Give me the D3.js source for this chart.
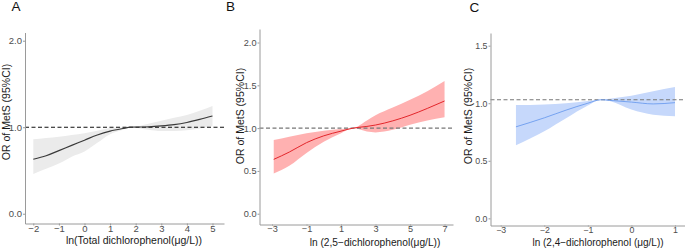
<!DOCTYPE html>
<html>
<head>
<meta charset="utf-8">
<script src="https://cdn.jsdelivr.net/npm/d3@7"></script>
<style>
  body { margin: 0; background: #fff; }
  svg { display: block; font-family: "Liberation Sans", Arial, sans-serif; }
</style>
</head>
<body>
<svg id="chart"></svg>
<script>
// panel A - total dichlorophenol
var xA = [-2, -1.5, -1, -0.5, 0, 0.5, 1, 1.5, 1.8, 2.5, 3, 3.5, 4, 4.5, 5];
var orA = [0.63, 0.67, 0.73, 0.79, 0.85, 0.91, 0.955, 0.985, 1.0, 1.005, 1.015, 1.03, 1.055, 1.09, 1.13];
var loA = [0.46, 0.52, 0.58, 0.66, 0.72, 0.82, 0.92, 0.97, 1.0, 0.97, 0.955, 0.955, 0.965, 0.985, 1.01];
var hiA = [0.86, 0.875, 0.89, 0.91, 0.93, 0.96, 0.99, 1.0, 1.0, 1.04, 1.075, 1.11, 1.14, 1.19, 1.245];

// panel B - 2,5-dichlorophenol
var xB = [-2.9, -2, -1, 0, 1, 1.7, 2.5, 3, 4, 5, 6, 7];
var orB = [0.635, 0.72, 0.83, 0.91, 0.965, 1.0, 1.02, 1.036, 1.085, 1.15, 1.23, 1.317];
var loB = [0.47, 0.56, 0.71, 0.84, 0.94, 1.0, 0.96, 0.95, 0.98, 1.04, 1.09, 1.126];
var hiB = [0.86, 0.90, 0.94, 0.97, 0.99, 1.0, 1.09, 1.15, 1.24, 1.33, 1.43, 1.55];

// panel C - 2,4-dichlorophenol
var xC = [-2.65, -2, -1.5, -1, -0.7, -0.5, 0, 0.5, 1];
var orC = [0.795, 0.873, 0.94, 1.0, 1.03, 1.025, 1.01, 0.994, 1.005];
var loC = [0.636, 0.757, 0.87, 0.98, 1.03, 1.02, 0.945, 0.90, 0.887];
var hiC = [0.985, 0.99, 1.0, 1.02, 1.03, 1.04, 1.066, 1.105, 1.14];

var yTicksA = [0, 1, 2], xTicksA = [-2, -1, 0, 1, 2, 3, 4, 5];
var yTicksB = [0, 0.5, 1, 1.5, 2], xTicksB = [-3, -1, 1, 3, 5, 7];
var yTicksC = [0, 0.5, 1, 1.5], xTicksC = [-3, -2, -1, 0, 1];

var yTitle = "OR of MetS (95%CI)";

var panels = [
  { tag: "A", x: xA, or: orA, lo: loA, hi: hiA, xt: xTicksA, yt: yTicksA, ref: 1,
    xlab: "ln(Total dichlorophenol(μg/L))",
    xlim: [-2.324, 5.45], ylim: [-0.113, 2.095], box: [25, 32.5, 224, 223.5],
    fill: "#ebebeb", line: "#3a3a3a", lw: 1.2, dash: "#111", tickFont: 9.5, tick: 2,
    titleFont: 10.5, tagPos: [11.5, 11], yTitlePos: [10, 112], xTitlePos: [134, 244] },
  { tag: "B", x: xB, or: orB, lo: loB, hi: hiB, xt: xTicksB, yt: yTicksB, ref: 1,
    xlab: "ln (2,5−dichlorophenol(μg/L))",
    xlim: [-3.725, 7.49], ylim: [-0.126, 2.158], box: [259.5, 29, 453, 224.5],
    fill: "#ffb1b1", line: "#e3262b", lw: 1, dash: "#777", tickFont: 9.2, tick: 1,
    titleFont: 10.2, tagPos: [226, 11], yTitlePos: [244, 116], xTitlePos: [375, 245.5] },
  { tag: "C", x: xC, or: orC, lo: loC, hi: hiC, xt: xTicksC, yt: yTicksC, ref: 1.03,
    xlab: "ln (2,4−dichlorophenol (μg/L))",
    xlim: [-3.234, 1.23], ylim: [-0.062, 1.61], box: [490.5, 33, 685, 225.5],
    fill: "#c6d8fb", line: "#6c9cee", lw: 0.9, dash: "#777", tickFont: 8.8, tick: 1,
    titleFont: 10, tagPos: [469.5, 12], yTitlePos: [472, 116], xTitlePos: [598, 245.5] }
];

var svg = d3.select("#chart").attr("width", 685).attr("height", 249);

var fmtY = d => d.toFixed(1);
var fmtX = d => (d < 0 ? "−" + Math.abs(d) : String(d));

panels.forEach(function(p) {
  var b = p.box;
  var x = d3.scaleLinear().domain(p.xlim).range([b[0], b[2]]);
  var y = d3.scaleLinear().domain(p.ylim).range([b[3], b[1]]);
  var pts = p.x.map((v, i) => ({ x: v, or: p.or[i], lo: p.lo[i], hi: p.hi[i] }));
  var g = svg.append("g");

  // confidence band
  g.append("path")
    .datum(pts)
    .attr("fill", p.fill)
    .attr("d", d3.area().curve(d3.curveMonotoneX)
      .x(d => x(d.x)).y0(d => y(d.lo)).y1(d => y(d.hi)));

  // reference line
  g.append("line")
    .attr("x1", x(p.xlim[0])).attr("x2", x(p.xlim[1]))
    .attr("y1", y(p.ref)).attr("y2", y(p.ref))
    .attr("stroke", p.dash).attr("stroke-width", 1.1)
    .attr("stroke-dasharray", "4,2.5");

  // fitted curve
  g.append("path")
    .datum(pts)
    .attr("fill", "none")
    .attr("stroke", p.line)
    .attr("stroke-width", p.lw)
    .attr("d", d3.line().curve(d3.curveMonotoneX).x(d => x(d.x)).y(d => y(d.or)));

  g.append("g")
    .attr("transform", "translate(0," + b[3] + ")")
    .call(d3.axisBottom(x).tickValues(p.xt).tickFormat(fmtX).tickSize(p.tick).tickSizeOuter(0).tickPadding(0));
  g.append("g")
    .attr("transform", "translate(" + b[0] + ",0)")
    .call(d3.axisLeft(y).tickValues(p.yt).tickFormat(fmtY).tickSize(2).tickSizeOuter(0).tickPadding(1));

  g.selectAll(".domain").attr("stroke", "#9a9a9a").attr("stroke-width", 1);
  g.selectAll(".tick line").attr("stroke", "#9a9a9a");
  g.selectAll(".tick text")
    .attr("fill", "#4d4d4d")
    .attr("font-size", p.tickFont)
    .attr("font-family", "Liberation Sans, Arial, sans-serif");

  // titles
  g.append("text")
    .attr("x", p.xTitlePos[0]).attr("y", p.xTitlePos[1])
    .attr("text-anchor", "middle")
    .attr("font-size", p.titleFont)
    .attr("fill", "#1a1a1a")
    .text(p.xlab);

  g.append("text")
    .attr("transform", "translate(" + p.yTitlePos[0] + "," + p.yTitlePos[1] + ") rotate(-90)")
    .attr("text-anchor", "middle")
    .attr("font-size", 10.5)
    .attr("fill", "#1a1a1a")
    .text(yTitle);

  g.append("text")
    .attr("x", p.tagPos[0]).attr("y", p.tagPos[1])
    .attr("font-size", 13.5)
    .attr("fill", "#111")
    .text(p.tag);
});
</script>
</body>
</html>
